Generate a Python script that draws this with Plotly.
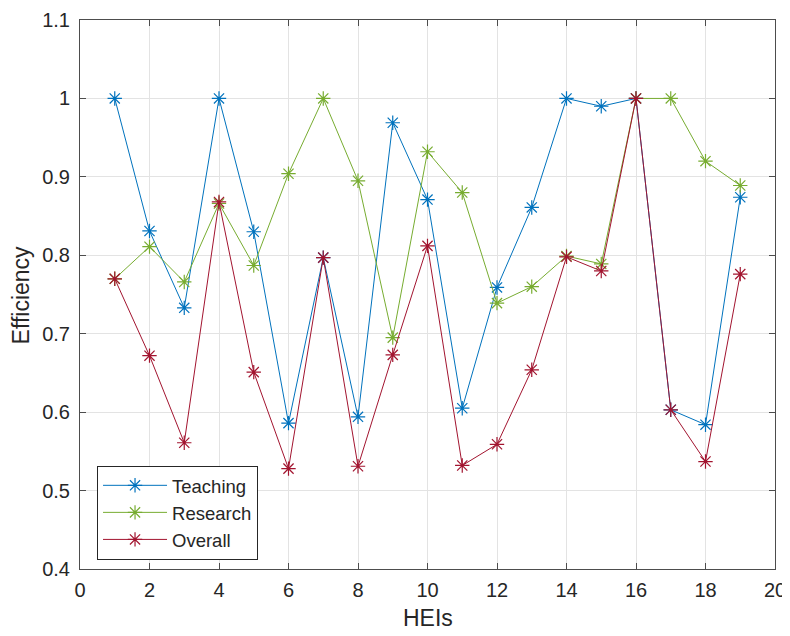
import plotly.graph_objects as go

heis = list(range(1, 20))
teaching = [1.0, 0.831, 0.733, 1.0, 0.830, 0.586, 0.797, 0.594, 0.969, 0.871,
            0.605, 0.759, 0.861, 1.0, 0.990, 1.0, 0.603, 0.584, 0.874]
research = [0.770, 0.811, 0.766, 0.866, 0.787, 0.904, 1.0, 0.895, 0.695, 0.932,
            0.880, 0.739, 0.760, 0.799, 0.789, 1.0, 1.0, 0.920, 0.889]
overall = [0.770, 0.672, 0.561, 0.868, 0.651, 0.528, 0.797, 0.531, 0.673, 0.812,
           0.532, 0.559, 0.654, 0.798, 0.780, 1.0, 0.603, 0.537, 0.776]
y_ticks = [0.4, 0.5, 0.6, 0.7, 0.8, 0.9, 1.0, 1.1]
y_ticktext = ["0.4", "0.5", "0.6", "0.7", "0.8", "0.9", "1", "1.1"]

series = [("Teaching", teaching, "#0072BD"),
          ("Research", research, "#77AC30"),
          ("Overall", overall, "#A2142F")]

fig = go.Figure()
for name, vals, col in series:
    fig.add_trace(go.Scatter(
        x=heis, y=vals, name=name, mode="lines+markers",
        line=dict(color=col, width=1),
        marker=dict(symbol="asterisk-open", size=12, color=col,
                    line=dict(color=col, width=1.2)),
    ))

font_family = "Liberation Sans, Arial, sans-serif"
text_col = "#262626"
axis_common = dict(
    showgrid=True, gridcolor="#e3e3e3", gridwidth=1,
    showline=True, linecolor="#4d4d4d", linewidth=1, mirror="ticks",
    ticks="inside", ticklen=6, tickcolor="#4d4d4d", zeroline=False,
    tickfont=dict(size=20, color=text_col, family=font_family),
    automargin=False,
)
fig.update_xaxes(range=[0, 20], dtick=2, tick0=0, ticklabelstandoff=3, **axis_common)
fig.update_yaxes(range=[0.4, 1.1], tickvals=y_ticks, ticktext=y_ticktext,
                 ticklabelstandoff=5, **axis_common)

fig.add_annotation(text="HEIs", xref="paper", yref="paper", x=0.5, y=-0.062,
                   xanchor="center", yanchor="top", showarrow=False,
                   font=dict(size=23, color=text_col, family=font_family))
fig.add_annotation(text="Efficiency", xref="paper", yref="paper", x=-0.085, y=0.5,
                   xanchor="center", yanchor="middle", textangle=-90, showarrow=False,
                   font=dict(size=23, color=text_col, family=font_family))

# The page body has an 8px margin, so the figure is sized to fit the window.
fig.update_layout(
    width=782, height=628,
    margin=dict(l=72, r=15, t=12, b=67),
    plot_bgcolor="white", paper_bgcolor="white",
    font=dict(family=font_family, color=text_col),
    legend=dict(x=0.0245, y=0.188, xanchor="left", yanchor="top",
                bgcolor="white", bordercolor=text_col, borderwidth=1,
                itemwidth=64,
                font=dict(size=18.5, color=text_col), tracegroupgap=0),
    showlegend=True,
)
fig.write_html("out.html")
